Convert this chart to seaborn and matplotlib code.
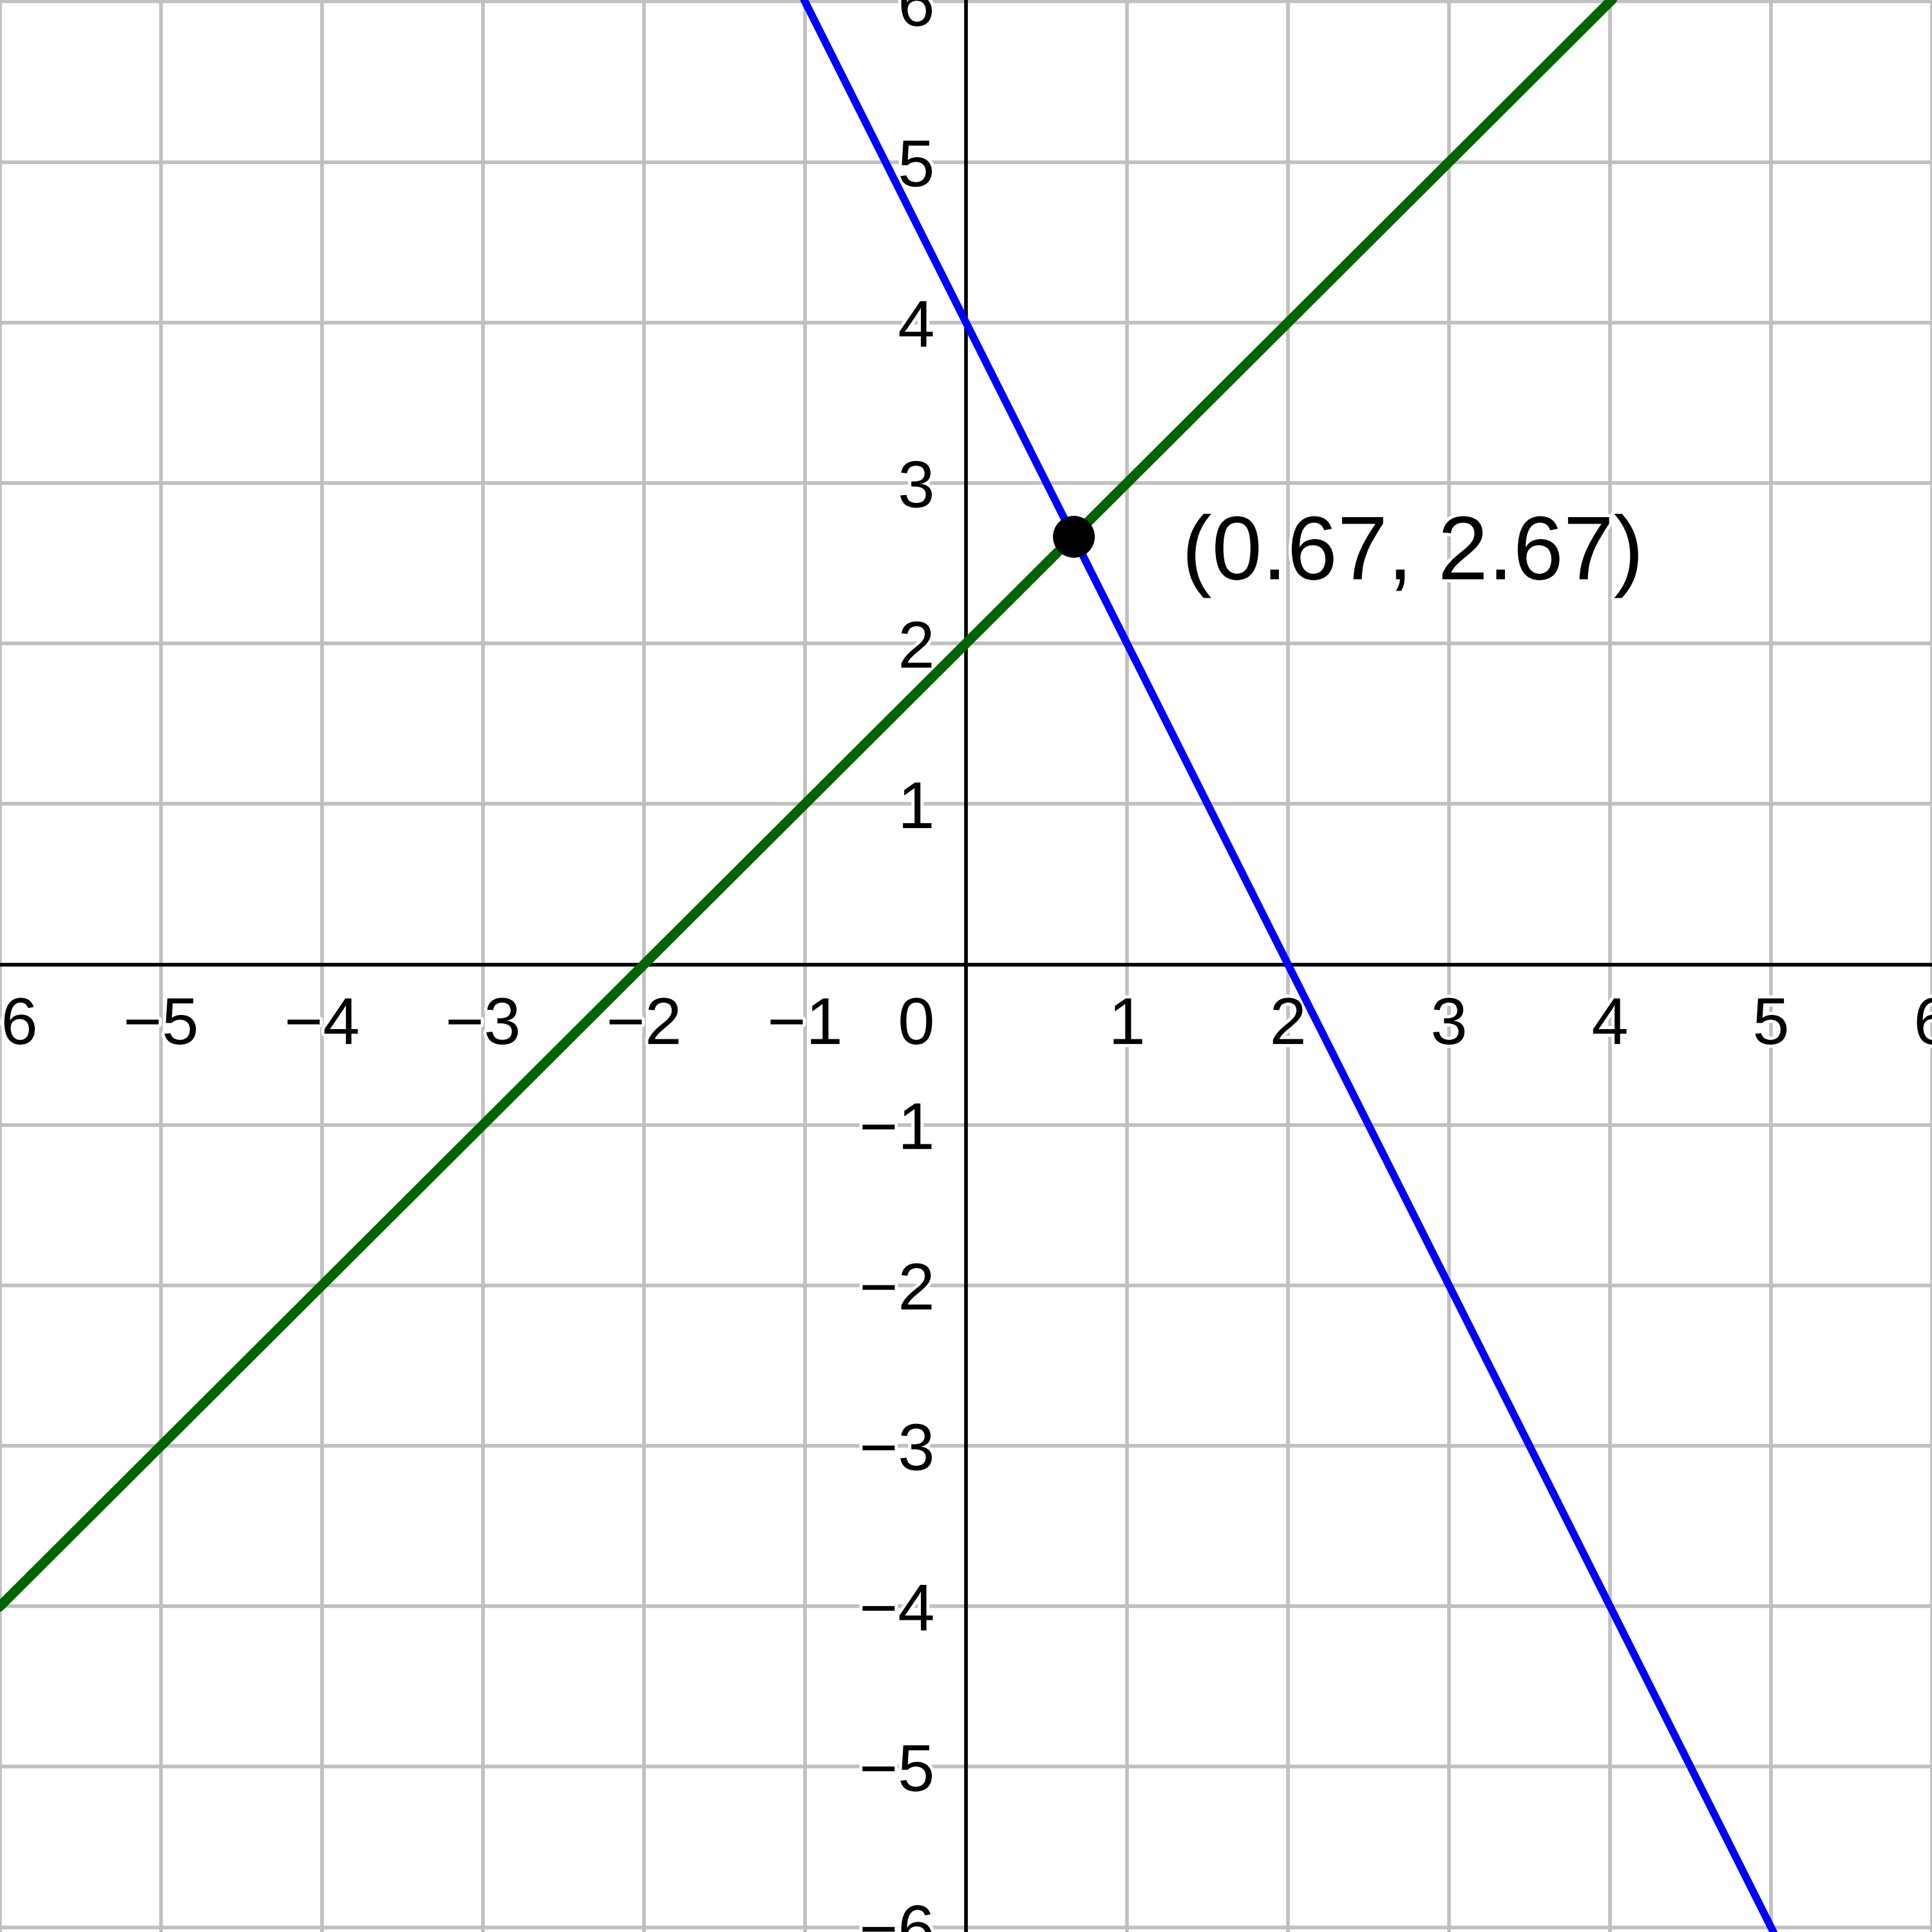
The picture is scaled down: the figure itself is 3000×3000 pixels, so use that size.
import seaborn as sns
import numpy as np
import matplotlib.pyplot as plt
import matplotlib.patheffects as pe

# points
blue_x = [-1.5, -1, 0, 2, 4, 5, 5.5]
blue_y = [7, 6, 4, 0, -4, -6, -7]
green_x = [-7, -6, -2, 0, 4, 5]
green_y = [-5, -4, 0, 2, 6, 7]

# intersection point and its label
pt_x = [0.667]
pt_y = [2.667]
pt_label = "(0.67, 2.67)"

ticks = [-6, -5, -4, -3, -2, -1, 1, 2, 3, 4, 5, 6]

sns.set_style("white")
plt.rcParams['font.family'] = ['Liberation Sans', 'DejaVu Sans']
plt.rcParams['axes.unicode_minus'] = True

fig = plt.figure(figsize=(30, 30), dpi=100)
ax = fig.add_axes([0, 0, 1, 1])

halo = [pe.withStroke(linewidth=7, foreground='white')]

sns.lineplot(x=green_x, y=green_y, color='#006400', linewidth=11,
             estimator=None, ax=ax, zorder=3)
sns.lineplot(x=blue_x, y=blue_y, color='#0000ff', linewidth=8.5,
             estimator=None, ax=ax, zorder=3)
sns.scatterplot(x=pt_x, y=pt_y, s=2190, color='black', linewidth=0,
                ax=ax, zorder=4)

ax.text(1.34, 2.40, pt_label, fontsize=101, ha='left', va='baseline',
        color='black', path_effects=halo, zorder=5)

ax.set_xlim(-6, 6)
ax.set_ylim(-6.03, 6.01)
ax.set_xticks(ticks)
ax.set_yticks(ticks)
ax.set_axisbelow(True)
ax.grid(True, color='#c0c0c0', linewidth=4.1)

for side in ['top', 'right']:
    ax.spines[side].set_visible(False)
for side in ['left', 'bottom']:
    ax.spines[side].set_position(('data', 0))
    ax.spines[side].set_color('black')
    ax.spines[side].set_linewidth(4.1)
    ax.spines[side].set_zorder(2.5)

ax.tick_params(axis='both', length=0, pad=35, labelsize=74, colors='black')
for lbl in ax.get_xticklabels() + ax.get_yticklabels():
    lbl.set_path_effects(halo)

# origin label
ax.annotate("0", xy=(0, 0), xytext=(-35, -35), textcoords='offset points',
            ha='right', va='top', fontsize=74, color='black',
            path_effects=halo)

ax.set_xlabel('')
ax.set_ylabel('')
if ax.get_legend() is not None:
    ax.get_legend().remove()

fig.savefig('out.png', dpi=100)
